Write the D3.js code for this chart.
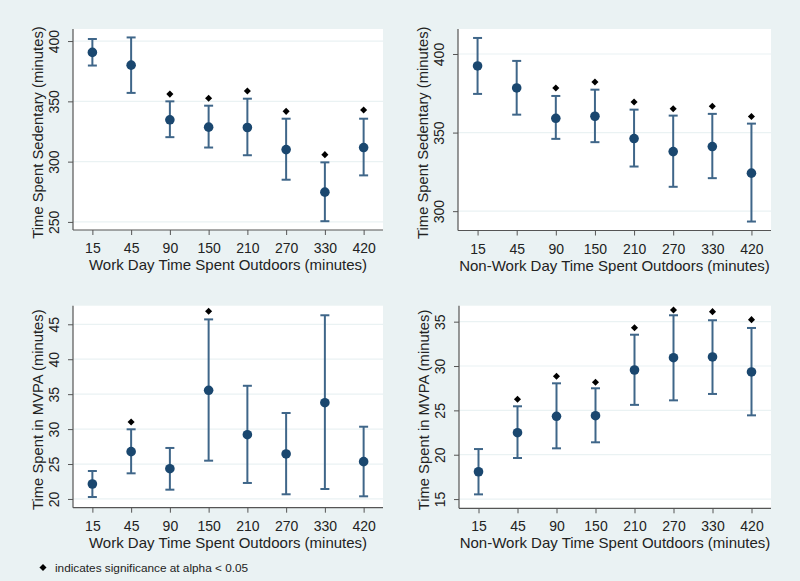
<!DOCTYPE html>
<html>
<head>
<meta charset="utf-8">
<script src="https://d3js.org/d3.v7.min.js"></script>
<style>
  html, body { margin: 0; padding: 0; background: #eaf2f3; }
  svg { display: block; }
  text { font-family: "Liberation Sans", Arial, sans-serif; fill: #222; }
</style>
</head>
<body>
<svg id="chart" width="800" height="581"></svg>
<script>
// ---- Data ----
const categories = ["15", "45", "90", "150", "210", "270", "330", "420"];

// Panel A: Work day, sedentary
const sedWorkMean = [390.6, 380.0, 334.7, 328.6, 328.3, 310.0, 274.7, 311.7];
const sedWorkLo   = [379.7, 357.0, 320.3, 311.7, 305.3, 285.0, 250.6, 288.6];
const sedWorkHi   = [401.7, 403.0, 350.0, 346.4, 352.2, 335.6, 299.4, 335.6];
const sedWorkSig  = [null, null, 356.0, 352.5, 358.6, 341.7, 305.8, 342.8];
const sedWorkTicks = [250, 300, 350, 400];

// Panel B: Non-work day, sedentary
const sedNonMean = [392.4, 378.4, 359.1, 360.4, 346.2, 337.9, 341.1, 324.2];
const sedNonLo   = [374.6, 361.4, 346.0, 343.9, 328.4, 315.5, 321.0, 293.4];
const sedNonHi   = [410.2, 395.6, 373.3, 377.3, 364.6, 360.8, 361.9, 355.7];
const sedNonSig  = [null, null, 378.4, 382.2, 369.5, 365.2, 366.8, 360.2];
const sedNonTicks = [300, 350, 400];

// Panel C: Work day, MVPA
const mvpaWorkMean = [22.14, 26.77, 24.33, 35.55, 29.20, 26.44, 33.78, 25.34];
const mvpaWorkLo   = [20.28, 23.67, 21.33, 25.48, 22.29, 20.67, 21.43, 20.38];
const mvpaWorkHi   = [24.00, 29.97, 27.30, 45.70, 36.20, 32.30, 46.29, 30.34];
const mvpaWorkSig  = [null, 31.02, null, 46.86, null, null, null, null];
const mvpaWorkTicks = [20, 25, 30, 35, 40, 45];

// Panel D: Non-work day, MVPA
const mvpaNonMean = [18.08, 22.48, 24.33, 24.40, 29.55, 30.94, 31.02, 29.33];
const mvpaNonLo   = [15.53, 19.63, 20.72, 21.40, 25.62, 26.13, 26.85, 24.44];
const mvpaNonHi   = [20.64, 25.46, 28.05, 27.49, 33.53, 35.72, 35.16, 34.29];
const mvpaNonSig  = [null, 26.25, 28.84, 28.17, 34.32, 36.32, 36.13, 35.23];
const mvpaNonTicks = [15, 20, 25, 30, 35];

const xTitles = ["Work Day Time Spent Outdoors (minutes)", "Non-Work Day Time Spent Outdoors (minutes)"];
const yTitles = ["Time Spent Sedentary (minutes)", "Time Spent in MVPA (minutes)"];
const footnote = "indicates significance at alpha < 0.05";

// ---- Layout ----
const panels = [
  { mean: sedWorkMean, lo: sedWorkLo, hi: sedWorkHi, sig: sedWorkSig, ticks: sedWorkTicks,
    ydom: [243.3, 410], box: { x0: 73, x1: 383, y0: 29, y1: 230 }, xt: xTitles[0], yt: yTitles[0] },
  { mean: sedNonMean, lo: sedNonLo, hi: sedNonHi, sig: sedNonSig, ticks: sedNonTicks,
    ydom: [287.7, 415.9], box: { x0: 458, x1: 771, y0: 29, y1: 230.5 }, xt: xTitles[1], yt: yTitles[0] },
  { mean: mvpaWorkMean, lo: mvpaWorkLo, hi: mvpaWorkHi, sig: mvpaWorkSig, ticks: mvpaWorkTicks,
    ydom: [18.75, 47.66], box: { x0: 73, x1: 383, y0: 305.7, y1: 507.7 }, xt: xTitles[0], yt: yTitles[1] },
  { mean: mvpaNonMean, lo: mvpaNonLo, hi: mvpaNonHi, sig: mvpaNonSig, ticks: mvpaNonTicks,
    ydom: [13.96, 36.8], box: { x0: 459, x1: 771, y0: 305.7, y1: 508.3 }, xt: xTitles[1], yt: yTitles[1] }
];

const svg = d3.select("#chart");
svg.append("rect").attr("width", 800).attr("height", 581).attr("fill", "#eaf2f3");

const markerColor = "#1a476f";
const barColor = "#3f6689";
const axisColor = "#555";
const diamond = d3.symbol().type(d3.symbolSquare).size(25);

panels.forEach(p => {
  const b = p.box;
  const x = d3.scalePoint().domain(categories).range([b.x0, b.x1]).padding(0.5);
  const y = d3.scaleLinear().domain(p.ydom).range([b.y1, b.y0]);
  const g = svg.append("g");

  // plot region
  g.append("rect").attr("x", b.x0).attr("y", b.y0)
    .attr("width", b.x1 - b.x0).attr("height", b.y1 - b.y0).attr("fill", "#fff");

  // gridlines
  g.selectAll(".grid").data(p.ticks).enter().append("line")
    .attr("x1", b.x0).attr("x2", b.x1)
    .attr("y1", d => y(d)).attr("y2", d => y(d))
    .attr("stroke", "#eaf2f3").attr("stroke-width", 1.2);

  // y axis
  const yAxis = g.append("g").attr("transform", `translate(${b.x0},0)`)
    .call(d3.axisLeft(y).tickValues(p.ticks).tickSize(5).tickPadding(0).tickFormat(d3.format("d")));
  yAxis.select(".domain").attr("d", `M0,${b.y0}V${b.y1}`).attr("stroke", axisColor).attr("stroke-width", 1.2);
  yAxis.selectAll(".tick line").attr("stroke", axisColor).attr("stroke-width", 1);
  yAxis.selectAll(".tick text")
    .attr("x", null).attr("dy", null)
    .attr("transform", "translate(-14,0) rotate(-90)")
    .attr("text-anchor", "middle")
    .attr("font-size", 14).attr("fill", "#222")
    .style("font-family", '"Liberation Sans", Arial, sans-serif');

  // x axis
  const xAxis = g.append("g").attr("transform", `translate(0,${b.y1})`)
    .call(d3.axisBottom(x).tickSize(5).tickPadding(0));
  xAxis.select(".domain").attr("d", `M${b.x0},0H${b.x1}`).attr("stroke", axisColor).attr("stroke-width", 1.2);
  xAxis.selectAll(".tick line").attr("stroke", axisColor).attr("stroke-width", 1);
  xAxis.selectAll(".tick text")
    .attr("y", 23).attr("dy", null)
    .attr("font-size", 14).attr("fill", "#222")
    .style("font-family", '"Liberation Sans", Arial, sans-serif');

  // axis titles
  g.append("text").attr("x", (b.x0 + b.x1) / 2).attr("y", b.y1 + 40)
    .attr("text-anchor", "middle").attr("font-size", 15).text(p.xt);
  g.append("text")
    .attr("transform", `translate(${b.x0 - 30},${(b.y0 + b.y1) / 2 + 3}) rotate(-90)`)
    .attr("text-anchor", "middle").attr("font-size", 14.8).text(p.yt);

  const rows = categories.map((c, i) => ({ c, m: p.mean[i], lo: p.lo[i], hi: p.hi[i], s: p.sig[i] }));

  // error bars
  const eb = g.selectAll(".eb").data(rows).enter().append("g");
  eb.append("line").attr("x1", d => x(d.c)).attr("x2", d => x(d.c))
    .attr("y1", d => y(d.lo)).attr("y2", d => y(d.hi))
    .attr("stroke", barColor).attr("stroke-width", 2);
  eb.append("line").attr("x1", d => x(d.c) - 4.5).attr("x2", d => x(d.c) + 4.5)
    .attr("y1", d => y(d.hi)).attr("y2", d => y(d.hi))
    .attr("stroke", barColor).attr("stroke-width", 2);
  eb.append("line").attr("x1", d => x(d.c) - 4.5).attr("x2", d => x(d.c) + 4.5)
    .attr("y1", d => y(d.lo)).attr("y2", d => y(d.lo))
    .attr("stroke", barColor).attr("stroke-width", 2);

  // means
  g.selectAll(".pt").data(rows).enter().append("circle")
    .attr("cx", d => x(d.c)).attr("cy", d => y(d.m)).attr("r", 4.8)
    .attr("fill", markerColor);

  // significance diamonds
  g.selectAll(".sig").data(rows.filter(d => d.s !== null)).enter().append("path")
    .attr("d", diamond)
    .attr("transform", d => `translate(${x(d.c)},${y(d.s)}) rotate(45)`)
    .attr("fill", "#000");
});

// footnote
svg.append("path").attr("d", diamond).attr("transform", "translate(43,567.5) rotate(45)").attr("fill", "#000");
svg.append("text").attr("x", 55).attr("y", 571.5).attr("font-size", 11.8).text(footnote);
</script>
</body>
</html>
